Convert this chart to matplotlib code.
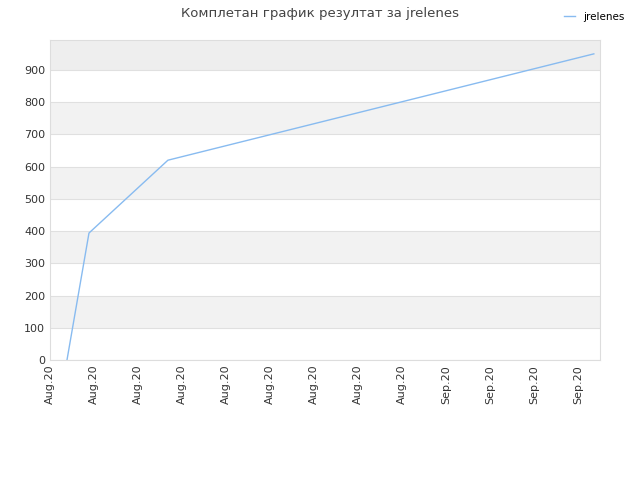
import matplotlib
matplotlib.use("Agg")
import matplotlib.pyplot as plt

x_vals = [0.386, 0.886, 2.68, 12.36]
y_vals = [0, 394, 620, 950]
tick_labels = ["Aug.20"] * 9 + ["Sep.20"] * 4

fig = plt.figure(figsize=(6.4, 4.8), dpi=100)
ax = fig.add_axes([50/640, 1-360/480, 550/640, 320/480])
ymax = 993
for i, lo in enumerate(range(0, 1000, 100)):
    hi = min(lo + 100, ymax)
    if i % 2 == 1:
        ax.axhspan(lo, hi, color="#f2f2f2" if lo < 900 else "#eeeeee", zorder=0, lw=0)
    ax.axhline(lo, color="#e0e0e0", lw=0.8, zorder=0.5)
ax.plot(x_vals, y_vals, color="#88bbf0", lw=1, label="jrelenes", zorder=2)
ax.set_xlim(0, 12.5)
ax.set_ylim(0, ymax)
ax.set_yticks(range(0, 1000, 100))
ax.set_xticks(range(13))
ax.set_xticklabels(tick_labels, rotation=90)
ax.tick_params(labelsize=8, colors="#333333", length=0)
for s in ax.spines.values():
    s.set_color("#dddddd")
fig.suptitle("Комплетан график резултат за jrelenes", fontsize=9.5, color="#444444", y=0.985)
fig.legend(loc="upper right", bbox_to_anchor=(0.99, 0.995), frameon=False, fontsize=7.5, handlelength=1)
fig.savefig("out.png")
